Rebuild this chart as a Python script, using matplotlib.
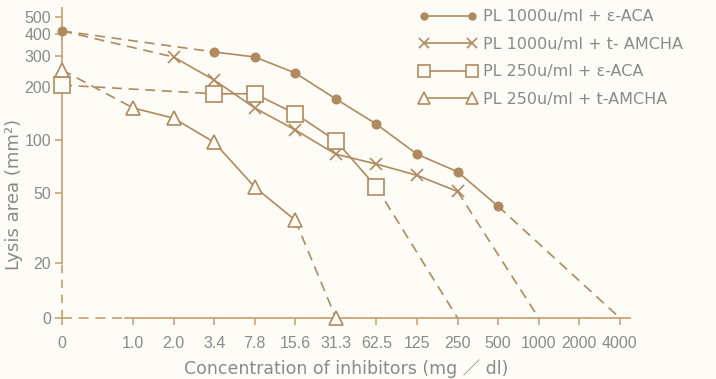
import matplotlib
matplotlib.use("Agg")
import matplotlib.pyplot as plt
from matplotlib.ticker import FixedLocator, FixedFormatter, NullLocator

# concentration of inhibitors (mg/dl), shown as evenly spaced categories
conc_labels = ["0", "1.0", "2.0", "3.4", "7.8", "15.6", "31.3", "62.5",
               "125", "250", "500", "1000", "2000", "4000"]
conc_pos = [-0.75] + list(range(1, 14))

# lysis area (mm2) per series; index refers to conc_labels
aca1000_idx = [0, 3, 4, 5, 6, 7, 8, 9, 10, 13]
aca1000_val = [416, 316, 296, 240, 171, 123, 83, 66, 42, 0]

amcha1000_idx = [0, 2, 3, 4, 5, 6, 7, 8, 9, 11]
amcha1000_val = [416, 296, 219, 152, 114, 83, 73, 63, 51, 0]

aca250_idx = [0, 3, 4, 5, 6, 7, 9]
aca250_val = [205, 183, 183, 141, 99, 54, 0]

amcha250_idx = [0, 1, 2, 3, 4, 5, 6]
amcha250_val = [250, 152, 133, 97, 54, 35, 0]

labels = ["PL 1000u/ml + ε-ACA", "PL 1000u/ml + t- AMCHA",
          "PL 250u/ml + ε-ACA", "PL 250u/ml + t-AMCHA"]

BG = "#fefcf6"
LINE = "#b08a5e"
AXIS = "#c89c6c"
TXT = "#8a8a8a"
ZERO = 9.75  # where "0" sits on the broken log axis

plt.rcParams["font.family"] = ["DejaVu Sans", "Noto Sans CJK JP"]

fig = plt.figure(figsize=(7.16, 3.79), dpi=100, facecolor=BG)
ax = fig.add_axes([0.0866, 0.161, 0.7933, 0.818], facecolor=BG)
ax.set_yscale("log")
ax.set_xlim(-0.75, 13.25)
ax.set_ylim(ZERO, 562)


def yv(v):
    return ZERO if v == 0 else v


def draw(idx, vals, marker, ms, fill, start_marker, end_marker, label):
    xs = [conc_pos[i] for i in idx]
    ys = [yv(v) for v in vals]
    dash = dict(color=LINE, lw=1.2, ls=(0, (6, 4)), zorder=2, clip_on=False)
    mk = dict(marker=marker, ms=ms, mfc=fill, mec=LINE, mew=1.2)
    # dashed lead-in from zero concentration and dashed run-out to zero lysis
    ax.plot(xs[:2], ys[:2], **dash)
    ax.plot(xs[-2:], ys[-2:], **dash)
    ax.plot(xs[1:-1], ys[1:-1], color=LINE, lw=1.2, zorder=3, clip_on=False,
            label=label, **mk)
    if start_marker:
        ax.plot(xs[:1], ys[:1], ls="none", zorder=4, clip_on=False, **mk)
    if end_marker:
        ax.plot(xs[-1:], ys[-1:], ls="none", zorder=4, clip_on=False, **mk)


draw(aca1000_idx, aca1000_val, "o", 6, LINE, True, False, labels[0])
draw(amcha1000_idx, amcha1000_val, "x", 9, BG, False, False, labels[1])
draw(aca250_idx, aca250_val, "s", 11, BG, True, False, labels[2])
draw(amcha250_idx, amcha250_val, "^", 10, BG, True, True, labels[3])

# axes drawn by hand: broken parts are dashed
for s in ax.spines.values():
    s.set_visible(False)
x0 = conc_pos[0]
ax.plot([x0, x0], [20, 562], color=AXIS, lw=1.2, clip_on=False, zorder=1)
ax.plot([x0, x0], [ZERO, 20], color=AXIS, lw=1.2, ls=(0, (5, 4)),
        clip_on=False, zorder=1)
ax.plot([x0, 0.8], [ZERO, ZERO], color=AXIS, lw=1.2, ls=(0, (6, 4)),
        clip_on=False, zorder=1)
ax.plot([0.8, 13.25], [ZERO, ZERO], color=AXIS, lw=1.2, clip_on=False,
        zorder=1)

ax.xaxis.set_major_locator(FixedLocator(conc_pos))
ax.xaxis.set_major_formatter(FixedFormatter(conc_labels))
yt = [ZERO, 20, 50, 100, 200, 300, 400, 500]
ax.yaxis.set_major_locator(FixedLocator(yt))
ax.yaxis.set_major_formatter(FixedFormatter(["0", "20", "50", "100", "200",
                                             "300", "400", "500"]))
ax.yaxis.set_minor_locator(NullLocator())
ax.tick_params(axis="both", colors=AXIS, length=5, width=1.1, direction="out",
               labelcolor=TXT, labelsize=11.5)
ax.tick_params(axis="x", pad=8)
ax.tick_params(axis="y", pad=3)
for t in ax.get_xticklabels() + ax.get_yticklabels():
    t.set_fontfamily("Liberation Sans")

ax.set_xlabel("Concentration of inhibitors (mg ／ dl)", color=TXT,
              fontsize=12.5, labelpad=6)
ax.set_ylabel("Lysis area (mm²)", color=TXT, fontsize=13)
ax.yaxis.set_label_coords(-0.068, 0.40)

leg = ax.legend(loc="upper left", bbox_to_anchor=(0.570, 1.005),
                bbox_transform=fig.transFigure, frameon=False, numpoints=2,
                handlelength=3.6, handletextpad=0.4, labelspacing=0.78,
                fontsize=11.5, borderaxespad=0.3, markerscale=0.8)
for t in leg.get_texts():
    t.set_color(TXT)

fig.savefig("out.png", dpi=100, facecolor=BG)
